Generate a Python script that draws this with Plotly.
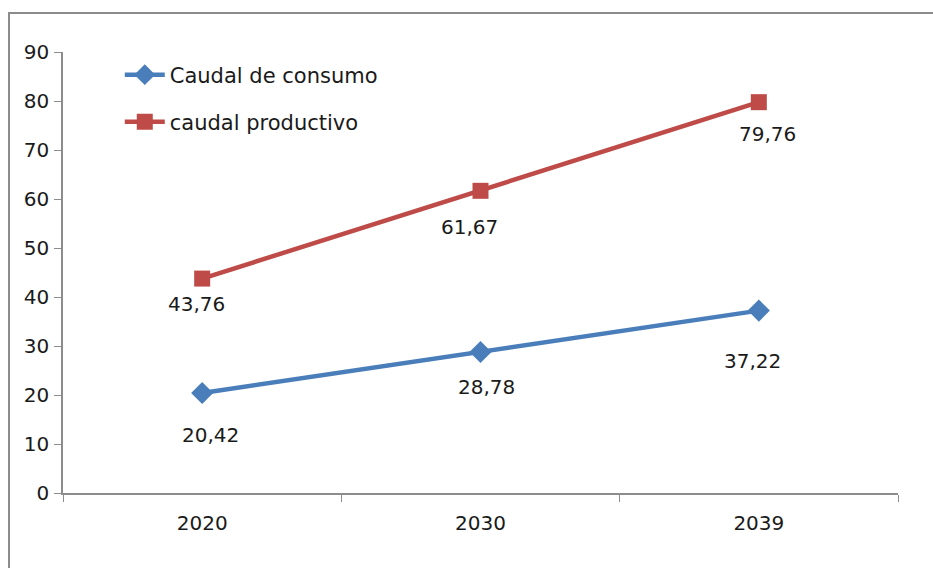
import plotly.graph_objects as go

years = ["2020", "2030", "2039"]
consumo = [20.42, 28.78, 37.22]
productivo = [43.76, 61.67, 79.76]
consumo_name = "Caudal de consumo"
productivo_name = "caudal productivo"
y_ticks = [0, 10, 20, 30, 40, 50, 60, 70, 80, 90]

BLUE = "#4A7EBB"
RED = "#BE4B48"
FONT = "DejaVu Sans"
TEXT = "#1A1A1A"


def fmt(v):
    return f"{v:.2f}".replace(".", ",")


fig = go.Figure()
fig.add_trace(go.Scatter(
    x=years, y=consumo, name=consumo_name, mode="lines+markers",
    line=dict(color=BLUE, width=4.5),
    marker=dict(symbol="diamond", size=17, color=BLUE),
    legend="legend",
))
fig.add_trace(go.Scatter(
    x=years, y=productivo, name=productivo_name, mode="lines+markers",
    line=dict(color=RED, width=4.5),
    marker=dict(symbol="square", size=16, color=RED),
    legend="legend2",
))

# value labels under each point (pixel nudges per label)
label_drop = {consumo_name: [42, 35, 50], productivo_name: [25, 36, 32]}
label_dx = {consumo_name: [8, 6, -6], productivo_name: [-6, -11, 9]}
for name, vals in ((consumo_name, consumo), (productivo_name, productivo)):
    for i, v in enumerate(vals):
        fig.add_annotation(
            x=i, y=v, xref="x", yref="y", text=fmt(v), showarrow=False,
            yshift=-label_drop[name][i], xshift=label_dx[name][i],
            font=dict(family=FONT, size=20, color=TEXT),
        )

legend_style = dict(
    xanchor="left", yanchor="middle", bgcolor="rgba(0,0,0,0)",
    font=dict(family=FONT, size=21, color=TEXT), itemwidth=40,
)

fig.update_layout(
    width=933, height=568,
    margin=dict(l=63, r=35, t=52, b=75),
    paper_bgcolor="white", plot_bgcolor="white",
    font=dict(family=FONT, size=19, color=TEXT),
    showlegend=True,
    legend=dict(x=0.068, y=(493 - 75) / 441, **legend_style),
    legend2=dict(x=0.068, y=(493 - 122) / 441, **legend_style),
    xaxis=dict(
        type="category", range=[-0.5, 2.5],
        showline=True, linecolor="#8C8C8C", linewidth=2,
        ticks="outside", tickcolor="#8C8C8C", ticklen=7, tickwidth=1,
        tickson="boundaries", showgrid=False, zeroline=False,
        tickfont=dict(family=FONT, size=20, color=TEXT),
        ticklabelstandoff=11,
    ),
    yaxis=dict(
        range=[0, 90], tickvals=y_ticks,
        showline=True, linecolor="#8C8C8C", linewidth=1.5,
        ticks="outside", tickcolor="#8C8C8C", ticklen=7,
        showgrid=False, zeroline=False,
        tickfont=dict(family=FONT, size=20, color=TEXT),
        ticklabelstandoff=1,
    ),
    shapes=[dict(
        type="rect", xref="paper", yref="paper",
        x0=(9 - 63) / 835, x1=1.1, y0=-0.3, y1=(493 - 13) / 441,
        line=dict(color="#8C8C8C", width=2), fillcolor="rgba(0,0,0,0)",
        layer="below",
    )],
)

fig.write_html("out.html")
